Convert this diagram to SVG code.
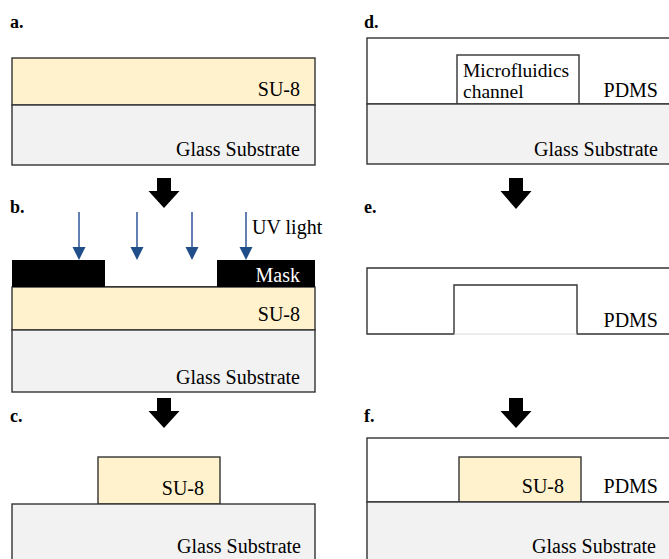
<svg xmlns="http://www.w3.org/2000/svg" width="669" height="559" viewBox="0 0 669 559">
<defs>
<style>
.lbl{font-family:"Liberation Serif","DejaVu Serif",serif;font-weight:bold;font-size:18px;fill:#000}
.t{font-family:"Liberation Serif","DejaVu Serif",serif;font-size:20px;fill:#000}
.tr{font-family:"Liberation Serif","DejaVu Serif",serif;font-size:20px;fill:#000;text-anchor:end}
.su8{fill:#fff2cc;stroke:#333;stroke-width:1.4}
.glass{fill:#f2f2f2;stroke:#333;stroke-width:1.4}
.pdms{fill:#fff;stroke:#333;stroke-width:1.4}
.blk{fill:#000}
.uv{stroke:#2f5597;stroke-width:1.5;fill:none}
.uvh{fill:#1f4e89}
</style>
</defs>

<!-- Panel a -->
<g id="panel-a">
<text class="lbl" x="10" y="28">a.</text>
<rect class="su8" x="12" y="58" width="303" height="47"/>
<rect class="glass" x="12" y="105" width="303" height="60"/>
<text class="tr" x="300" y="96">SU-8</text>
<text class="tr" x="300" y="156">Glass Substrate</text>
</g>

<!-- Panel b -->
<g id="panel-b">
<text class="lbl" x="10" y="213">b.</text>
<rect class="su8" x="12" y="287" width="303" height="43"/>
<rect class="glass" x="12" y="330" width="303" height="62"/>
<rect class="blk" x="12" y="260" width="93" height="27"/>
<rect class="blk" x="217" y="260" width="98" height="27"/>
<line x1="105" y1="286.5" x2="217" y2="286.5" stroke="#333" stroke-width="1.2"/>
<text class="tr" x="300" y="282" style="fill:#fff">Mask</text>
<text class="tr" x="300" y="321">SU-8</text>
<text class="tr" x="300" y="384">Glass Substrate</text>
<text class="t" x="252" y="234">UV light</text>
</g>

<!-- Panel c -->
<g id="panel-c">
<text class="lbl" x="10" y="422">c.</text>
<rect class="su8" x="98" y="457" width="122" height="47"/>
<rect class="glass" x="12" y="504" width="303" height="70"/>
<text class="tr" x="204" y="495">SU-8</text>
<text class="tr" x="301" y="553">Glass Substrate</text>
</g>

<!-- Panel d -->
<g id="panel-d">
<text class="lbl" x="364" y="28">d.</text>
<rect class="pdms" x="367" y="38" width="320" height="66"/>
<rect class="pdms" x="457" y="55" width="122" height="49"/>
<rect class="glass" x="367" y="104" width="320" height="60"/>
<text class="t" x="463" y="77" style="font-size:19.5px">Microfluidics</text>
<text class="t" x="463" y="98" style="font-size:19.5px">channel</text>
<text class="tr" x="658" y="97">PDMS</text>
<text class="tr" x="658" y="156">Glass Substrate</text>
</g>

<!-- Panel e -->
<g id="panel-e">
<text class="lbl" x="364" y="213">e.</text>
<path d="M687,268 H367 V334 H454 V285 H577 V334 H687" fill="#fff" stroke="#333" stroke-width="1.4"/>
<line x1="454" y1="334" x2="577" y2="334" stroke="#d9d9d9" stroke-width="1.2"/>
<text class="tr" x="658" y="327">PDMS</text>
</g>

<!-- Panel f -->
<g id="panel-f">
<text class="lbl" x="364" y="422">f.</text>
<rect class="pdms" x="367" y="438" width="320" height="64"/>
<rect class="su8" x="459" y="457" width="122" height="45"/>
<rect class="glass" x="367" y="502" width="320" height="70"/>
<text class="tr" x="564" y="493">SU-8</text>
<text class="tr" x="658" y="493">PDMS</text>
<text class="tr" x="656" y="553">Glass Substrate</text>
</g>

<!-- Connectors -->
<g id="connectors">
<polygon class="blk" points="157,178 171,178 171,191 179.5,191 164,208 148.5,191 157,191"/>
<polygon class="blk" points="157,398 171,398 171,411 179.5,411 164,428 148.5,411 157,411"/>
<polygon class="blk" points="509,178 523,178 523,191 531.5,191 516,209 500.5,191 509,191"/>
<polygon class="blk" points="509,398 523,398 523,411 531.5,411 516,428 500.5,411 509,411"/>
<g id="uv-rays">
<line class="uv" x1="79" y1="212" x2="79" y2="250"/>
<polygon class="uvh" points="72.5,247 85.5,247 79,260"/>
<line class="uv" x1="137" y1="212" x2="137" y2="250"/>
<polygon class="uvh" points="130.5,247 143.5,247 137,260"/>
<line class="uv" x1="192" y1="212" x2="192" y2="250"/>
<polygon class="uvh" points="185.5,247 198.5,247 192,260"/>
<line class="uv" x1="246" y1="212" x2="246" y2="250"/>
<polygon class="uvh" points="239.5,247 252.5,247 246,260"/>
</g>
</g>
</svg>
